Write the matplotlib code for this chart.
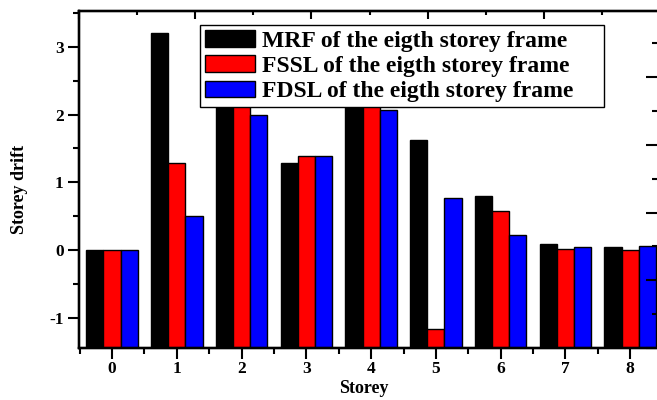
import numpy as np
import matplotlib.pyplot as plt
from matplotlib.ticker import MultipleLocator

storeys = [0, 1, 2, 3, 4, 5, 6, 7, 8]
mrf = [0.0, 3.2, 2.22, 1.29, 2.25, 1.63, 0.79, 0.09, 0.04]
fssl = [0.0, 1.29, 2.18, 1.39, 2.2, -1.17, 0.58, 0.02, 0.0]
fdsl = [0.0, 0.50, 2.0, 1.39, 2.06, 0.77, 0.22, 0.04, 0.06]
labels = ['MRF of the eigth storey frame',
          'FSSL of the eigth storey frame',
          'FDSL of the eigth storey frame']

plt.rcParams['font.family'] = ['Liberation Serif', 'DejaVu Serif']
plt.rcParams['font.weight'] = 'bold'
plt.rcParams['axes.unicode_minus'] = False

fig = plt.figure(figsize=(6.57, 4.0), dpi=100)
# axes run slightly past the right edge, as in the cropped original
ax = fig.add_axes([79 / 657, 52 / 400, 581 / 657, 337 / 400])

ylo, yhi = -1.45, 3.53
x = np.arange(len(storeys))
w = 0.265
for off, vals, col, lab in zip([-w, 0, w], [mrf, fssl, fdsl],
                               ['black', 'red', 'blue'], labels):
    vals = np.array(vals)
    ax.bar(x + off, vals - ylo, bottom=ylo, width=w, color=col,
           edgecolor='black', linewidth=1, label=lab, zorder=2)

ax.set_xlim(-0.51, 8.46)
ax.set_ylim(ylo, yhi)
ax.set_xticks(x)
ax.xaxis.set_minor_locator(MultipleLocator(0.5))
ax.set_yticks([-1, 0, 1, 2, 3])
ax.yaxis.set_minor_locator(MultipleLocator(0.5))
ax.tick_params(axis='both', which='major', direction='out', length=8, width=1.5,
               labelsize=12.5, pad=3, top=False, right=False)
ax.tick_params(axis='x', which='major', pad=1.5)
ax.tick_params(axis='both', which='minor', direction='out', length=4.5, width=1.5,
               top=False, right=False)
for lab in ax.get_xticklabels() + ax.get_yticklabels():
    lab.set_fontweight('bold')
for s in ax.spines.values():
    s.set_linewidth(1.6)

ax.set_xlabel('Storey', fontsize=13, fontweight='bold')
ax.set_ylabel('Storey drift', fontsize=13, fontweight='bold')
ax.xaxis.set_label_coords(285 / 581, -32 / 337)
ax.yaxis.set_label_coords(-51 / 581, 0.47)

# stray axes ticks from the overlaid plot (top and right)
top = ax.twiny()
top.set_xlim(-1, 4)
top.xaxis.set_major_locator(MultipleLocator(1))
top.xaxis.set_minor_locator(MultipleLocator(0.5))
top.tick_params(axis='x', which='major', direction='in', length=6, width=1.5, labeltop=False)
top.tick_params(axis='x', which='minor', direction='in', length=3, width=1.5)
right = ax.twinx()
right.set_ylim(ylo + 0.45, yhi + 0.45)
right.yaxis.set_major_locator(MultipleLocator(1))
right.yaxis.set_minor_locator(MultipleLocator(0.5))
right.tick_params(axis='y', which='major', direction='in', length=10, width=1.5, labelright=False)
right.tick_params(axis='y', which='minor', direction='in', length=6, width=1.5)
for a in (top, right):
    for s in a.spines.values():
        s.set_linewidth(1.6)

leg = ax.legend(loc='upper left',
                bbox_to_anchor=(200 / 657, 1 - 106 / 400, 404 / 657, 81 / 400),
                bbox_transform=fig.transFigure, mode='expand',
                prop={'family': 'Liberation Serif', 'weight': 'bold', 'size': 17},
                handlelength=2.1, handleheight=0.72, labelspacing=0.15,
                handletextpad=0.3, borderpad=0.22, borderaxespad=0,
                fancybox=False, framealpha=1, edgecolor='black')
leg.get_frame().set_linewidth(1)
leg.set_zorder(5)

fig.savefig('out.png', dpi=100)
